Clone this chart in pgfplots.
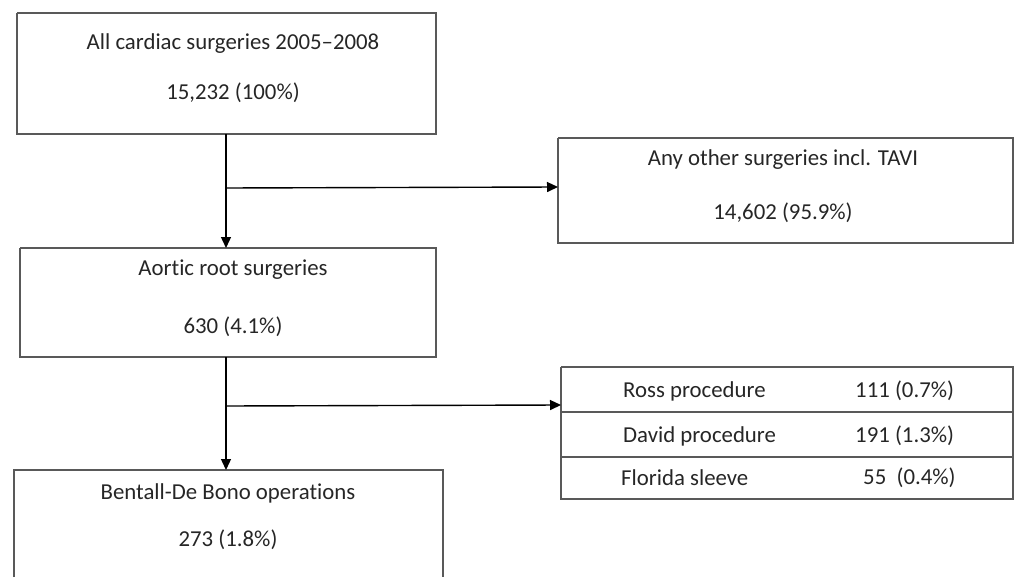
\documentclass[border=0pt]{standalone}
\usepackage{pgfplots}
\pgfplotsset{compat=1.18}
\usepackage{fontspec}
\setmainfont{Carlito}[RawFeature={-liga}]
\usetikzlibrary{arrows.meta}
\tikzset{lab/.style={font=\fontsize{22.8}{27}\selectfont, text=black!85, inner sep=0pt}}
\begin{document}
\begin{tikzpicture}
\begin{axis}[
  width=1014pt, height=577pt, scale only axis,
  xmin=0, xmax=1014, ymin=0, ymax=577, y dir=reverse,
  axis lines=none, clip=false,
]
% frame of the page
\addplot[draw=none] coordinates {(0,0) (1014,577)};
% boxes
\addplot[black!65, line width=1.2pt] coordinates {(17,13) (436,13) (436,134) (17,134) (17,13)};
\addplot[black!65, line width=1.2pt] coordinates {(558,138) (1013,138) (1013,243) (558,243) (558,138)};
\addplot[black!65, line width=1.2pt] coordinates {(20,248) (436,248) (436,357) (20,357) (20,248)};
\addplot[black!65, line width=1.2pt] coordinates {(561,367) (1013,367) (1013,499) (561,499) (561,367)};
\addplot[black!65, line width=1.2pt] coordinates {(561,412) (1013,412)};
\addplot[black!65, line width=1.2pt] coordinates {(561,457) (1013,457)};
\addplot[black!65, line width=1.2pt] coordinates {(14,577) (14,470) (443,470) (443,577)};
% arrows
\addplot[black, line width=1.4pt, -{Triangle[length=11pt,width=10pt]}] coordinates {(226,134) (226,248)};
\addplot[black, line width=1.4pt, -{Triangle[length=11pt,width=10pt]}] coordinates {(226,188) (558,187)};
\addplot[black, line width=1.4pt, -{Triangle[length=11pt,width=10pt]}] coordinates {(226,357) (226,470)};
\addplot[black, line width=1.4pt, -{Triangle[length=11pt,width=10pt]}] coordinates {(226,406) (561,405)};
% texts
\node[lab] at (axis cs:233,44) {All cardiac surgeries 2005--2008};
\node[lab] at (axis cs:233,93) {15,232 (100\%)};
\node[lab] at (axis cs:783,160) {Any other surgeries incl. TAVI};
\node[lab] at (axis cs:783,213) {14,602 (95.9\%)};
\node[lab] at (axis cs:233,270) {Aortic root surgeries};
\node[lab] at (axis cs:233,327) {630 (4.1\%)};
\node[lab] at (axis cs:228,493) {Bentall-De Bono operations};
\node[lab] at (axis cs:228,540) {273 (1.8\%)};
\node[lab, anchor=west] at (axis cs:623,391) {Ross procedure};
\node[lab, anchor=west] at (axis cs:623,436) {David procedure};
\node[lab, anchor=west] at (axis cs:621,478) {Florida sleeve};
\node[lab, anchor=west] at (axis cs:855,391) {111 (0.7\%)};
\node[lab, anchor=west] at (axis cs:855,436) {191 (1.3\%)};
\node[lab, anchor=west] at (axis cs:863,478) {55\ \ (0.4\%)};
\end{axis}
\end{tikzpicture}
\end{document}
